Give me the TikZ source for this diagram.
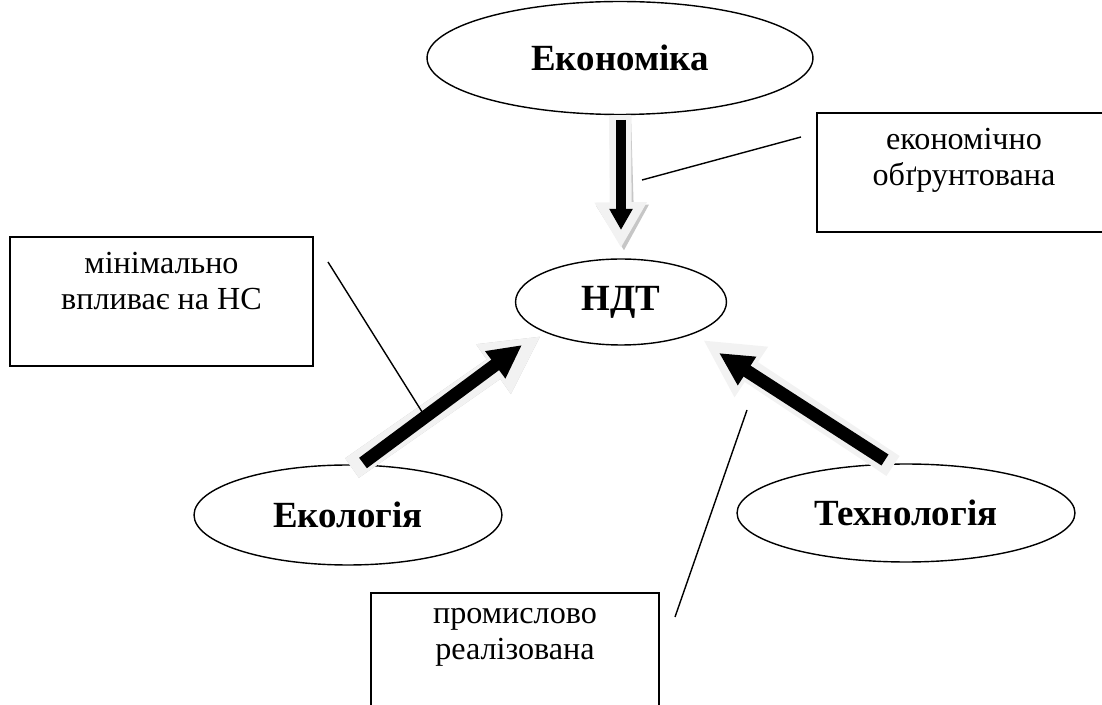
\documentclass[tikz,border=0pt]{standalone}
\usepackage{fontspec}
\setmainfont{Liberation Serif}
\usetikzlibrary{arrows.meta,positioning,shapes.geometric}
\tikzset{
  topic/.style={ellipse, draw, line width=0.8pt, inner sep=0pt, font=\bfseries\fontsize{21}{25}\selectfont},
  notebox/.style={draw, rectangle, line width=0.8pt, inner sep=0pt},
  notetext/.style={align=center, inner sep=0pt, font=\fontsize{18.3}{20.5}\selectfont},
  leader/.style={line width=0.8pt},
  shade/.style={gray!45, shift={(3,3)}},
  glow/.style={line width=12.5pt, gray!10, -{Triangle[length=26pt,width=28pt]}},
  core/.style={line width=5.7pt, black, -{Triangle[length=12pt,width=12.5pt]}},
  dglow/.style={line width=13.6pt, gray!10, -{Triangle[length=33pt,width=32pt]}},
  dcore/.style={line width=7.4pt, black, -{Triangle[length=19pt,width=18pt]}}
}
\begin{document}
\begin{tikzpicture}[x=0.02cm,y=-0.02cm]
\useasboundingbox (0,0) rectangle (1102,705);
\node [topic, minimum width=7.72cm, minimum height=2.26cm] (eko) at (620,58) {Економіка};
\node [topic, minimum width=4.22cm, minimum height=1.72cm] (ndt) at (621,302) {НДТ};
\node [topic, minimum width=6.16cm, minimum height=2cm] (eco) at (348,515) {Екологія};
\node [topic, minimum width=6.76cm, minimum height=1.96cm] (tech) at (906,513) {Технологія};
\node [notebox, minimum width=5.88cm, minimum height=2.38cm] (ebox) at (964,172.5) {};
\node [notetext, below=9pt of ebox.north] (etext) {економічно\\обґрунтована};
\node [notebox, minimum width=6.06cm, minimum height=2.58cm] (lbox) at (161.5,301.5) {};
\node [notetext, below=9pt of lbox.north] (ltext) {мінімально\\впливає на НС};
\node [notebox, minimum width=5.76cm, minimum height=2.5cm] (pbox) at (515,655.5) {};
\node [notetext, below=9pt of pbox.north] (ptext) {промислово\\реалізована};
\coordinate (a1) at (352,468); \coordinate (a2) at (541,336);
\coordinate (b1) at (893,466); \coordinate (b2) at (703,340);
\draw [glow, shade] (eko.south) -- (621,248);
\draw [glow] (eko.south) -- (621,248);
\draw [core] (621,120) -- (621,230);
\draw [dglow, shade] (a1) -- (a2);
\draw [dglow] (a1) -- (a2);
\draw [dcore] (363,463) -- (522,345);
\draw [dglow] (b1) -- (b2);
\draw [dcore] (885,460) -- (719,353);
\coordinate (e1) at (642,180); \coordinate (e2) at (801,137);
\coordinate (l1) at (328,262); \coordinate (l2) at (424,415);
\coordinate (p1) at (675,617); \coordinate (p2) at (747,410);
\draw [leader] (e1) -- (e2);
\draw [leader] (l1) -- (l2);
\draw [leader] (p1) -- (p2);
\end{tikzpicture}
\end{document}
